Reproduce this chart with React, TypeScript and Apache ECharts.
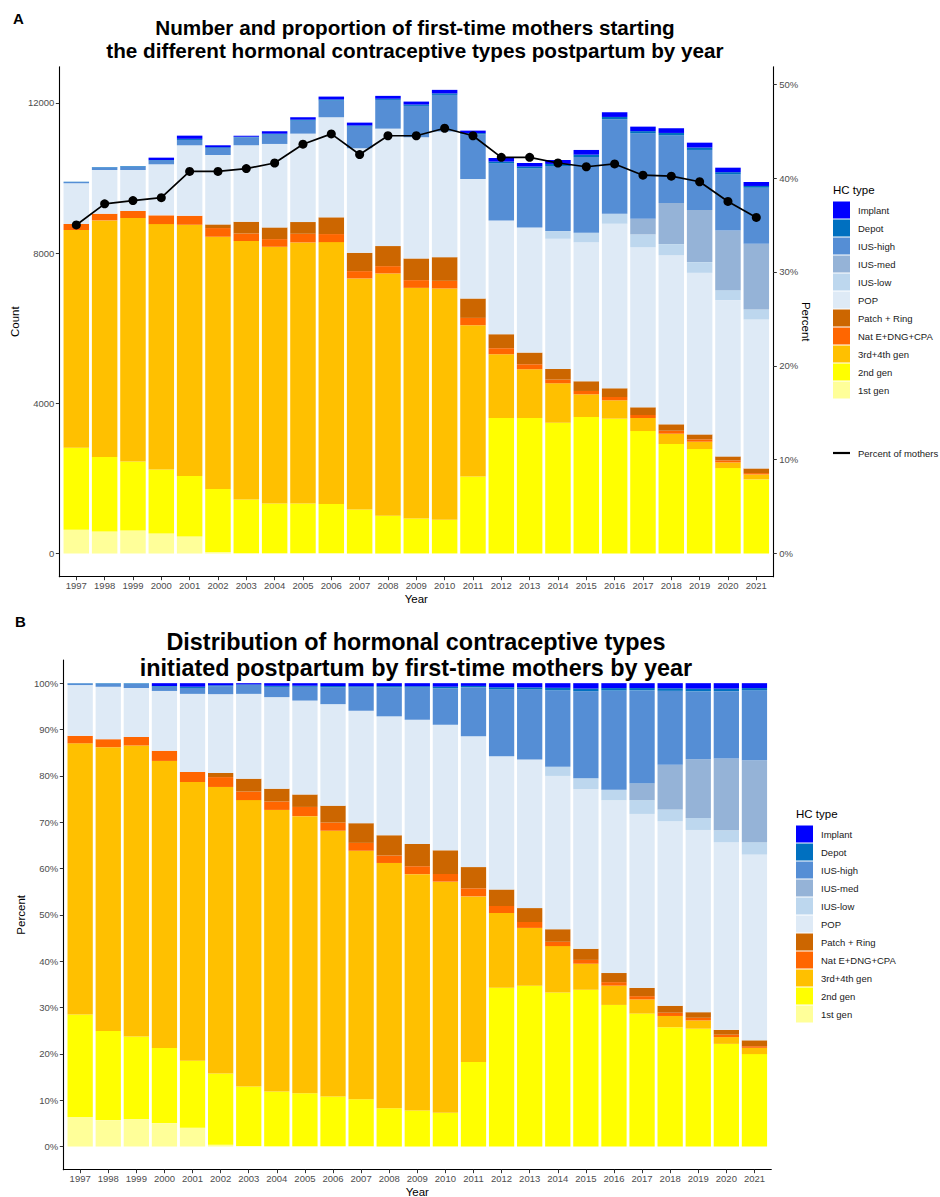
import React, { useEffect, useRef } from 'react';
import * as echarts from 'echarts';

const years = ['1997','1998','1999','2000','2001','2002','2003','2004','2005','2006','2007','2008','2009','2010','2011','2012','2013','2014','2015','2016','2017','2018','2019','2020','2021'];

// Counts per contraceptive type (panel A)
const firstGen = [632, 587, 613, 533, 453, 44, 10, 8, 6, 5, 4, 4, 3, 3, 3, 2, 2, 2, 2, 1, 1, 1, 1, 1, 1];
const secondGen = [2186, 1982, 1840, 1707, 1609, 1672, 1430, 1325, 1327, 1311, 1169, 1000, 930, 895, 2050, 3607, 3607, 3482, 3634, 3590, 3261, 2915, 2781, 2275, 1972];
const thirdFourthGen = [5795, 6302, 6480, 6533, 6693, 6720, 6880, 6836, 6951, 6977, 6152, 6454, 6142, 6160, 4027, 1698, 1298, 1049, 604, 489, 347, 275, 196, 151, 134];
const natEDngCpa = [160, 178, 187, 232, 240, 231, 205, 204, 231, 214, 195, 195, 205, 204, 195, 160, 133, 98, 89, 89, 80, 80, 62, 53, 35];
const patchRing = [0, 0, 0, 0, 0, 98, 310, 312, 312, 445, 488, 534, 578, 631, 516, 373, 311, 284, 258, 231, 204, 169, 133, 107, 125];
const pop = [1085, 1164, 1093, 1360, 1876, 1848, 2036, 2222, 2355, 2666, 2784, 3128, 3227, 3347, 3182, 3031, 3334, 3467, 3706, 4382, 4267, 4507, 4302, 4160, 3965];
const iusLow = [0, 0, 0, 0, 0, 0, 0, 0, 0, 0, 0, 0, 0, 0, 0, 0, 0, 205, 249, 267, 338, 293, 285, 266, 266];
const iusMed = [0, 0, 0, 0, 0, 0, 0, 0, 0, 0, 0, 0, 0, 0, 0, 0, 0, 0, 0, 0, 417, 1093, 1387, 1592, 1750];
const iusHigh = [35, 70, 95, 97, 142, 187, 214, 248, 346, 444, 576, 765, 835, 973, 1192, 1520, 1573, 1733, 2018, 2516, 2276, 1805, 1600, 1493, 1493];
const depot = [5, 10, 12, 15, 30, 20, 13, 25, 25, 30, 30, 30, 35, 40, 30, 47, 47, 55, 62, 61, 57, 62, 64, 57, 47];
const implant = [0, 0, 0, 65, 85, 51, 30, 65, 65, 76, 77, 77, 80, 94, 67, 95, 95, 105, 125, 125, 120, 125, 130, 120, 105];

// Percent of mothers starting hormonal contraception (line, right axis)
const percentMothers = [35.0, 37.25, 37.6, 37.9, 40.7, 40.7, 41.0, 41.6, 43.6, 44.7, 42.5, 44.5, 44.5, 45.3, 44.5, 42.2, 42.2, 41.6, 41.2, 41.5, 40.3, 40.2, 39.6, 37.5, 35.8];

const typeNames = ['1st gen', '2nd gen', '3rd+4th gen', 'Nat E+DNG+CPA', 'Patch + Ring', 'POP', 'IUS-low', 'IUS-med', 'IUS-high', 'Depot', 'Implant'];
const typeColors = ['#FFFF99', '#FFFF00', '#FFC000', '#FF6600', '#CC6600', '#DEEAF6', '#BDD7EE', '#95B3D7', '#558ED5', '#0070C0', '#0000FF'];
const typeCounts = [firstGen, secondGen, thirdFourthGen, natEDngCpa, patchRing, pop, iusLow, iusMed, iusHigh, depot, implant];

const countTicks = [0, 4000, 8000, 12000];
const rightPctTicks = [0, 10, 20, 30, 40, 50];
const pctTicks = [0, 10, 20, 30, 40, 50, 60, 70, 80, 90, 100];

const FONT = '"Liberation Sans", Arial, Helvetica, sans-serif';

export default function App() {
  const ref = useRef<HTMLDivElement>(null);

  useEffect(() => {
    const chart = echarts.init(ref.current as HTMLDivElement, null, { renderer: 'svg', width: 940, height: 1197 });

    const totals = years.map((_, i) => typeCounts.reduce((s, arr) => s + arr[i], 0));
    const positions = years.map((_, i) => i + 1);

    // axis frames (ggplot panel incl. 0.6-unit discrete expansion)
    const frameA = { left: 59.3, top: 66.7, width: 714, height: 510, outerBoundsMode: 'none', containLabel: false };
    const frameB = { left: 63.3, top: 660, width: 708, height: 509.7, outerBoundsMode: 'none', containLabel: false };
    const bandA = frameA.width / 25.2;
    const bandB = frameB.width / 25.2;
    const barsGridA = { left: frameA.left + 0.1 * bandA, top: frameA.top, width: 25 * bandA, height: frameA.height, outerBoundsMode: 'none', containLabel: false };
    const barsGridB = { left: frameB.left + 0.1 * bandB, top: frameB.top, width: 25 * bandB, height: frameB.height, outerBoundsMode: 'none', containLabel: false };

    const countMin = -617;
    const countMax = 12964;

    const axisLine = { show: true, onZero: false, lineStyle: { color: '#000', width: 1.1 } };
    const axisLabelStyle = { fontSize: 9.5, color: '#4D4D4D', fontFamily: FONT };
    const nameStyle = { fontSize: 11.5, color: '#000', fontFamily: FONT };
    const legendText = { fontSize: 9.5, color: '#1a1a1a', fontFamily: FONT, padding: [0, 0, 0, 3] };

    const xFrameAxis = (gridIndex: number) => ({
      gridIndex,
      type: 'value',
      min: 0.4,
      max: 25.6,
      axisLine,
      splitLine: { show: false },
      axisTick: { show: true, length: 3.5, lineStyle: { color: '#333', width: 1 }, customValues: positions },
      axisLabel: { ...axisLabelStyle, margin: 4, customValues: positions, formatter: (v: number) => years[Math.round(v) - 1] ?? '' },
      name: 'Year',
      nameLocation: 'middle',
      nameGap: 16,
      nameMoveOverlap: false,
      nameTextStyle: nameStyle,
    });

    const xBarsAxis = (gridIndex: number) => ({
      gridIndex,
      type: 'category',
      data: years,
      boundaryGap: true,
      show: false,
    });

    const barsA = typeNames.map((name, k) => ({
      type: 'bar',
      name,
      xAxisIndex: 1,
      yAxisIndex: 2,
      stack: 'countA',
      barCategoryGap: '10%',
      itemStyle: { color: typeColors[k] },
      data: typeCounts[k],
    }));

    const barsB = typeNames.map((name, k) => ({
      type: 'bar',
      name,
      xAxisIndex: 3,
      yAxisIndex: 4,
      stack: 'pctB',
      barCategoryGap: '10%',
      itemStyle: { color: typeColors[k] },
      data: typeCounts[k].map((v, i) => (v / totals[i]) * 100),
    }));

    const legendOrder = [...typeNames].reverse();

    const option = {
      animation: false,
      backgroundColor: '#fff',
      textStyle: { fontFamily: FONT },
      grid: [frameA, barsGridA, frameB, barsGridB],
      xAxis: [xFrameAxis(0), xBarsAxis(1), xFrameAxis(2), xBarsAxis(3)],
      yAxis: [
        {
          gridIndex: 0,
          type: 'value',
          min: countMin,
          max: countMax,
          axisLine,
          splitLine: { show: false },
          axisTick: { show: true, length: 3.5, lineStyle: { color: '#333' }, customValues: countTicks },
          axisLabel: { ...axisLabelStyle, margin: 5, customValues: countTicks, formatter: (v: number) => String(Math.round(v)) },
          name: 'Count',
          nameLocation: 'middle',
          nameGap: 38,
          nameMoveOverlap: false,
          nameRotate: 90,
          nameTextStyle: nameStyle,
        },
        {
          gridIndex: 0,
          type: 'value',
          position: 'right',
          min: countMin / 250,
          max: countMax / 250,
          axisLine,
          splitLine: { show: false },
          axisTick: { show: true, length: 3.5, lineStyle: { color: '#333' }, customValues: rightPctTicks },
          axisLabel: { ...axisLabelStyle, margin: 6, customValues: rightPctTicks, formatter: (v: number) => `${Math.round(v)}%` },
          name: 'Percent',
          nameLocation: 'middle',
          nameGap: 27,
          nameMoveOverlap: false,
          nameRotate: -90,
          nameTextStyle: nameStyle,
        },
        {
          gridIndex: 1,
          type: 'value',
          min: countMin,
          max: countMax,
          show: false,
          splitLine: { show: false },
        },
        {
          gridIndex: 2,
          type: 'value',
          min: -5,
          max: 105,
          axisLine,
          splitLine: { show: false },
          axisTick: { show: true, length: 3.5, lineStyle: { color: '#333' }, customValues: pctTicks },
          axisLabel: { ...axisLabelStyle, margin: 5, customValues: pctTicks, formatter: (v: number) => `${Math.round(v)}%` },
          name: 'Percent',
          nameLocation: 'middle',
          nameGap: 36,
          nameMoveOverlap: false,
          nameRotate: 90,
          nameTextStyle: nameStyle,
        },
        {
          gridIndex: 3,
          type: 'value',
          min: -5,
          max: 105,
          show: false,
          splitLine: { show: false },
        },
      ],
      legend: [
        {
          orient: 'vertical',
          left: 828,
          top: 196.5,
          itemWidth: 17,
          itemHeight: 17,
          itemGap: 1,
          icon: 'rect',
          selectedMode: false,
          data: legendOrder,
          textStyle: legendText,
        },
        {
          orient: 'vertical',
          left: 828,
          top: 443,
          itemWidth: 17,
          itemHeight: 2.2,
          icon: 'rect',
          selectedMode: false,
          data: ['Percent of mothers'],
          textStyle: legendText,
        },
        {
          orient: 'vertical',
          left: 791,
          top: 820.5,
          itemWidth: 17,
          itemHeight: 17,
          itemGap: 1,
          icon: 'rect',
          selectedMode: false,
          data: legendOrder,
          textStyle: legendText,
        },
      ],
      graphic: [
        { type: 'text', left: 13, top: 11, style: { text: 'A', font: `bold 15px ${FONT}`, fill: '#000' } },
        { type: 'text', left: 15, top: 614, style: { text: 'B', font: `bold 15px ${FONT}`, fill: '#000' } },
        {
          type: 'text', x: 415, y: 39,
          style: { text: 'Number and proportion of first-time mothers starting\nthe different hormonal contraceptive types postpartum by year', font: `bold 20.7px ${FONT}`, fill: '#000', align: 'center', verticalAlign: 'middle', lineHeight: 22.5 },
        },
        {
          type: 'text', x: 416, y: 655,
          style: { text: 'Distribution of hormonal contraceptive types\ninitiated postpartum by first-time mothers by year', font: `bold 23.4px ${FONT}`, fill: '#000', align: 'center', verticalAlign: 'middle', lineHeight: 26 },
        },
        { type: 'text', x: 833, y: 190, style: { text: 'HC type', font: `11.5px ${FONT}`, fill: '#000', verticalAlign: 'middle' } },
        { type: 'text', x: 796, y: 814, style: { text: 'HC type', font: `11.5px ${FONT}`, fill: '#000', verticalAlign: 'middle' } },
      ],
      series: [
        ...barsA,
        {
          type: 'line',
          name: 'Percent of mothers',
          xAxisIndex: 0,
          yAxisIndex: 1,
          data: percentMothers.map((v, i) => [positions[i], v]),
          symbol: 'circle',
          symbolSize: 9,
          lineStyle: { color: '#000', width: 1.7 },
          itemStyle: { color: '#000' },
          z: 10,
        },
        ...barsB,
      ],
    };

    chart.setOption(option as any);
    return () => chart.dispose();
  }, []);

  return <div ref={ref} style={{ position: 'absolute', left: 0, top: 0, width: 940, height: 1197, background: '#fff' }} />;
}
